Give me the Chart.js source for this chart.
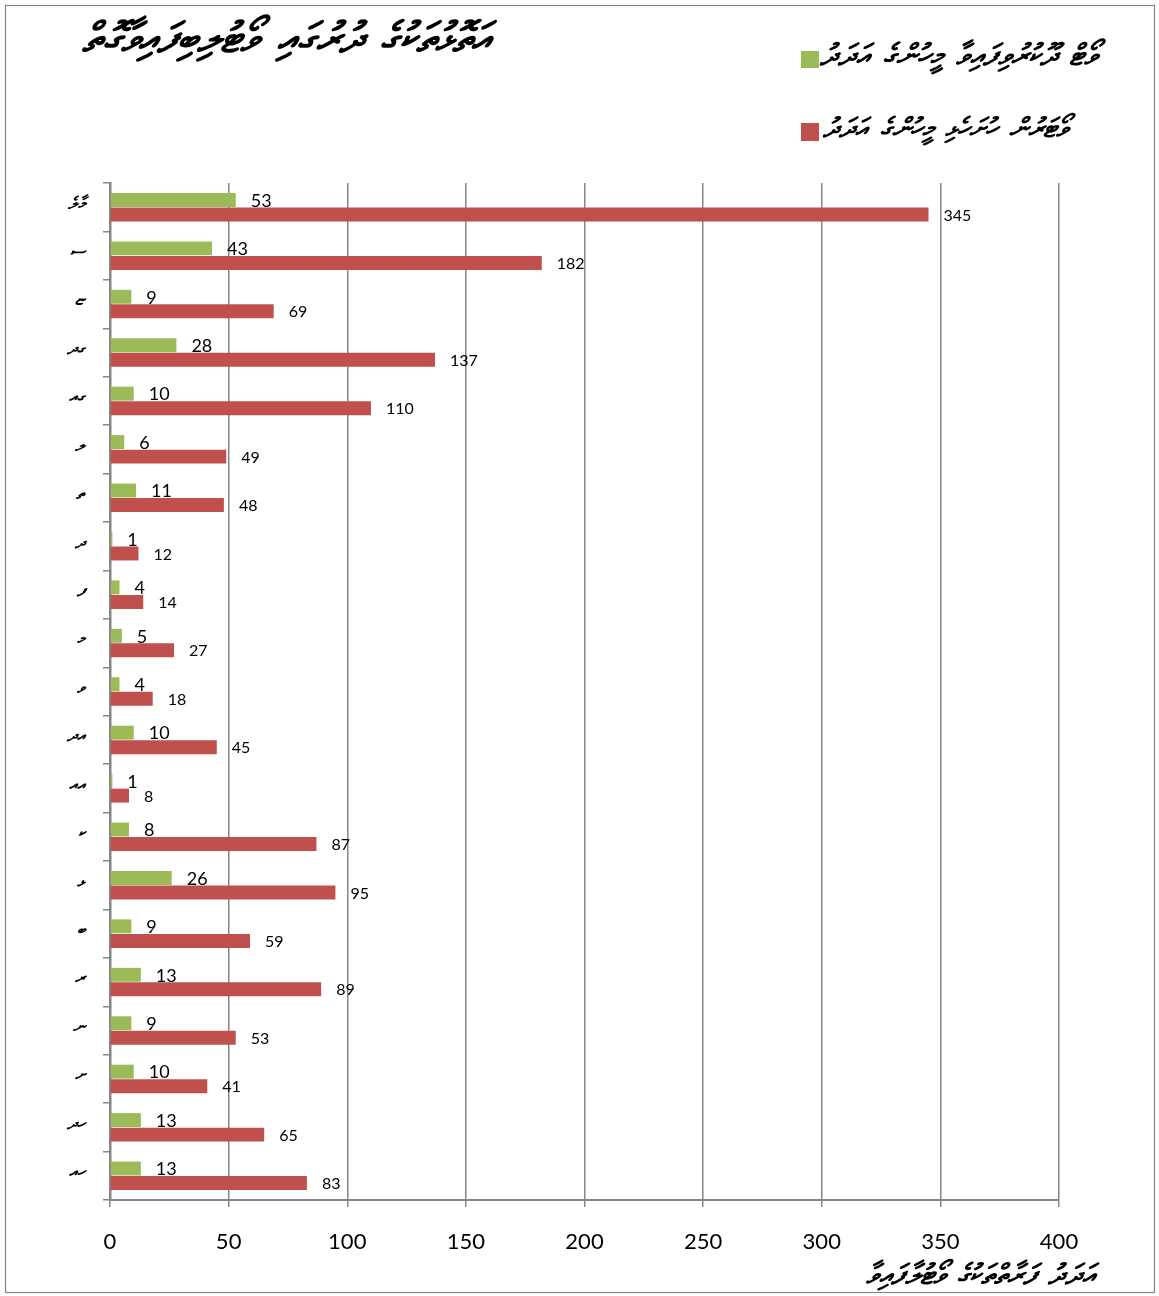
<!DOCTYPE html>
<html>
<head>
<meta charset="utf-8">
<script src="https://cdn.jsdelivr.net/npm/chart.js@4.4.1/dist/chart.umd.min.js"></script>
<style>
html,body{margin:0;padding:0;background:#fff}
#wrap{position:relative;width:1159px;height:1296px}
</style>
</head>
<body>
<div id="wrap"><canvas id="grafico"></canvas></div>
<script>

/* ===== datos ===== */

const atolls = ["މާލެ","ސ","ޏ","ގދ","ގއ","ލ","ތ","ދ","ފ","މ","ވ","އދ","އއ","ކ","ޅ","ބ","ރ","ނ","ށ","ހދ","ހއ"]

const votosDados = [53,43,9,28,10,6,11,1,4,5,4,10,1,8,26,9,13,9,10,13,13]

const votantes = [345,182,69,137,110,49,48,12,14,27,18,45,8,87,95,59,89,53,41,65,83]

const xMin = 0
const xMax = 400
const xStep = 50

const titulo = "އަތޮޅުތަކުގެ ދުރުގައި ވޯޓުލިބިފައިވާގޮތް"
const leyenda1 = "ވޯޓް ދޫކުރުވިފައިވާ މީހުންގެ އަދަދު"
const leyenda2 = "ވޯޓަރުން ހުށަހެޅި މީހުންގެ އަދަދު"
const tituloX = "އަދަދު ފަރާތްތަކުގެ ވޯޓުލާފައިވާ"

const verde = "#9BBB59"
const rojo = "#C0504D"
const gris = "#868686"

/* ===== texto thaana, palabra por palabra de derecha a izquierda ===== */

const inclinacion = -0.28

function anchoTexto(ctx, palabras, espacio){
let total = 0
palabras.forEach(function(p){ total += ctx.measureText(p).width })
return total + espacio * (palabras.length - 1)
}

function textoThaana(ctx, texto, derecha, base, ancho, tam){
let palabras = texto.split(" ")
ctx.font = `bold ${tam}px "DejaVu Sans"`
let esp = tam * 0.45
let w = anchoTexto(ctx, palabras, esp)
let size = tam * ancho / w
ctx.font = `bold ${size}px "DejaVu Sans"`
esp = size * 0.45

ctx.save()
ctx.translate(0, base)
ctx.transform(1, 0, inclinacion, 1, 0, 0)
ctx.textAlign = "right"
ctx.textBaseline = "alphabetic"
let x = derecha
palabras.forEach(function(p){
ctx.fillText(p, x, 0)
x -= ctx.measureText(p).width + esp
})
ctx.restore()
}

const decoracion = {
id:"decoracion",
beforeDraw(chart){
const ctx = chart.ctx
ctx.save()
ctx.fillStyle = "#fff"
ctx.fillRect(0,0,chart.width,chart.height)
ctx.restore()
},
afterDraw(chart){
const ctx = chart.ctx
ctx.save()

ctx.strokeStyle = gris
ctx.lineWidth = 1.2
ctx.strokeRect(5.5,5.5,1149,1287)

ctx.fillStyle = "#000"

textoThaana(ctx, titulo, 490, 52, 410, 26)
textoThaana(ctx, leyenda1, 1097, 65, 274, 18)
textoThaana(ctx, leyenda2, 1068, 137, 245, 18)
textoThaana(ctx, tituloX, 1095, 1284, 227, 18)

ctx.fillStyle = verde
ctx.fillRect(801,51,18,17)
ctx.fillStyle = rojo
ctx.fillRect(801,123,18,18)

/* etiquetas del eje de atolones */
const escala = chart.scales.y
ctx.fillStyle = "#000"
ctx.font = 'bold 17px "DejaVu Sans"'
ctx.textAlign = "right"
ctx.textBaseline = "middle"
atolls.forEach(function(a, i){
let y = escala.getPixelForValue(i) - 3
ctx.save()
ctx.translate(0, y)
ctx.transform(1, 0, inclinacion, 1, 0, 0)
ctx.fillText(a, 86, 0)
ctx.restore()
})

ctx.restore()
}
}

const etiquetas = {
id:"etiquetas",
afterDatasetsDraw(chart){
const ctx = chart.ctx
ctx.save()
ctx.fillStyle = "#000"
ctx.textAlign = "left"
ctx.textBaseline = "middle"
chart.data.datasets.forEach(function(ds, i){
let meta = chart.getDatasetMeta(i)
ctx.font = i == 0 ? '18px Lato' : '16px Lato'
meta.data.forEach(function(bar, j){
ctx.fillText(String(ds.data[j]), bar.x + 15, bar.y + 1)
})
})
ctx.restore()
}
}

/* ===== grafico ===== */

new Chart(document.getElementById("grafico"),{

type:"bar",

data:{
labels:atolls,
datasets:[
{
label:leyenda1,
data:votosDados,
backgroundColor:verde,
categoryPercentage:0.6,
barPercentage:0.96
},
{
label:leyenda2,
data:votantes,
backgroundColor:rojo,
categoryPercentage:0.6,
barPercentage:0.96
}
]
},

options:{
indexAxis:"y",
responsive:true,
maintainAspectRatio:false,
animation:false,
layout:{padding:{top:183,right:100,left:0,bottom:0}},
plugins:{
legend:{display:false},
title:{display:false},
tooltip:{enabled:false}
},
scales:{
x:{
min:xMin,
max:xMax,
ticks:{stepSize:xStep,color:"#000",font:{family:"Lato",size:22},padding:22},
grid:{color:gris,lineWidth:1.5,tickLength:7,tickColor:gris},
border:{color:gris,width:2},
afterFit(scale){ scale.height = 96 }
},
y:{
ticks:{display:false},
grid:{drawOnChartArea:false,offset:true,tickLength:7,color:gris,lineWidth:1.5},
border:{color:gris,width:2.5},
afterFit(scale){ scale.width = 110 }
}
}
},

plugins:[decoracion, etiquetas]

})

</script>
</body>
</html>
